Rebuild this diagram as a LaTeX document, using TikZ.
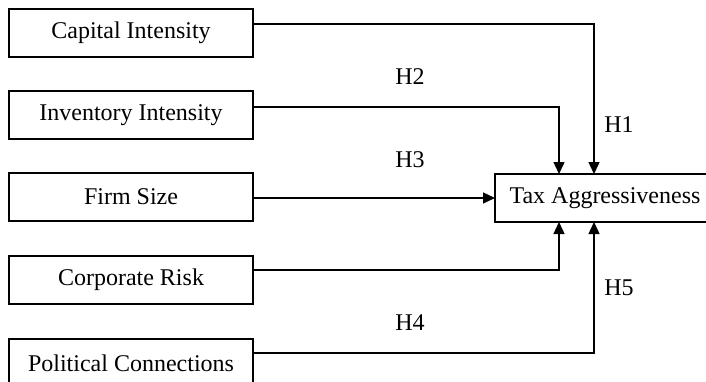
\documentclass[tikz,border=0pt]{standalone}
\usepackage{fontspec}
\setmainfont{Liberation Serif}
\usepackage{tikz}
\usetikzlibrary{arrows.meta, positioning, calc}

\begin{document}
\begin{tikzpicture}[
    factor/.style={
        draw, line width=0.9pt, minimum width=122pt, minimum height=24pt,
        inner sep=0pt, outer sep=0pt, align=center
    },
    outcome/.style={
        draw, line width=0.9pt, minimum width=110pt, minimum height=24pt,
        inner sep=0pt, outer sep=0pt, align=center
    },
    arr/.style={-{Triangle[length=6pt, width=5.5pt]}, line width=0.7pt},
    hyp/.style={inner sep=0pt},
    every node/.style={font=\fontsize{12}{14}\selectfont}
]

% frame of the picture
\clip (0pt,0pt) rectangle (353pt,-190.5pt);

% =============================================
% LEFT COLUMN: DETERMINANTS
% =============================================
\node[factor] (cap) at (65.5pt,-16.5pt) {Capital Intensity};
\node[factor, below=17pt of cap] (inv) {Inventory Intensity};
\node[factor, below=17pt of inv] (size) {Firm Size};
\node[factor, below=17.5pt of size] (risk) {Corporate Risk};
\node[factor, below=17.5pt of risk] (pol) {Political Connections};

% =============================================
% RIGHT: OUTCOME
% =============================================
\node[outcome, anchor=west] (tax) at (247.5pt,-99pt) {Tax Aggressiveness};

% =============================================
% PATHS
% =============================================
\draw[arr] ([yshift=4.5pt]cap.east) -| ([xshift=-5.5pt]tax.north);
\draw[arr] ([yshift=4pt]inv.east) -| ([xshift=-23pt]tax.north);
\draw[arr] (size.east |- tax.west) -- (tax.west);
\draw[arr] ([yshift=5pt]risk.east) -| ([xshift=-23pt]tax.south);
\draw[arr] ([yshift=5pt]pol.east) -| ([xshift=-5.5pt]tax.south);

% hypothesis labels
\node[hyp] (h1) at (309.5pt,-62.5pt) {H1};
\node[hyp] (h2) at (205pt,-38.5pt) {H2};
\node[hyp] (h3) at (205pt,-80pt) {H3};
\node[hyp] (h4) at (205pt,-161.5pt) {H4};
\node[hyp] (h5) at (309.5pt,-144pt) {H5};

\end{tikzpicture}
\end{document}
